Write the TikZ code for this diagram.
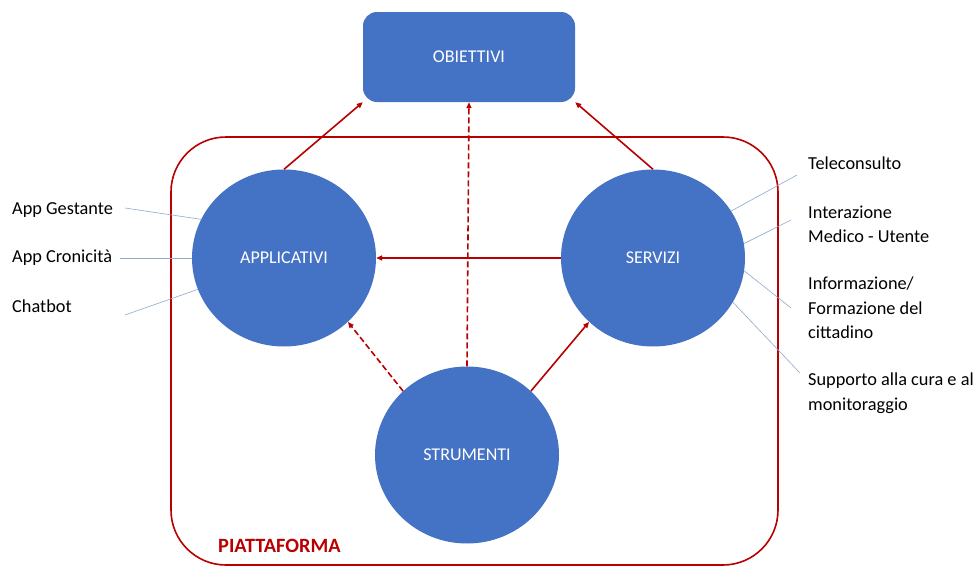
\documentclass[tikz,border=0pt]{standalone}
\usepackage{fontspec}
\setmainfont{Carlito}
\usetikzlibrary{shapes.geometric,arrows.meta}
\definecolor{bblue}{HTML}{4472C4}
\definecolor{dred}{HTML}{B80000}
\definecolor{lline}{HTML}{8FAACB}
\tikzset{
  blob/.style={ellipse,fill=bblue,minimum width=184pt,minimum height=177pt,inner sep=0pt,text=white,font=\fontsize{18}{20}\selectfont},
  goal/.style={rectangle,rounded corners=14pt,fill=bblue,minimum width=212pt,minimum height=90pt,text=white,font=\fontsize{18}{20}\selectfont},
  redarr/.style={draw=dred,line width=1.6pt,-{Triangle[length=6pt,width=5pt]}},
  reddash/.style={redarr,dashed,dash pattern=on 6pt off 3pt},
  thin/.style={draw=lline,line width=0.6pt},
  lbl/.style={font=\fontsize{18.3}{24.5}\selectfont,align=left,inner sep=0pt}
}
\begin{document}
\begin{tikzpicture}[x=1pt,y=-1pt]
\useasboundingbox (0,0) rectangle (978,570);
\fill[white] (0,0) rectangle (978,570);
% platform
\draw[dred,line width=1.6pt,rounded corners=55pt] (171,137) rectangle (778,565);
\node[font=\fontsize{20.3}{22}\selectfont\bfseries,text=dred,anchor=west,inner sep=0pt] (piat) at (218,546) {PIATTAFORMA};
% nodes
\node[goal] (obj) at (469,57) {OBIETTIVI};
\node[blob] (app) at (284,258) {APPLICATIVI};
\node[blob] (ser) at (653,258) {SERVIZI};
\node[blob] (str) at (467,455) {STRUMENTI};
% arrows
\draw[redarr] (app.north) -- (obj.south west);
\draw[redarr] (ser.north) -- (obj.south east);
\draw[reddash] (str.north) -- (obj.south);
\draw[redarr] (ser.west) -- (app.east);
\draw[reddash] (str.135) -- (app.-45);
\draw[redarr] (str.45) -- (ser.-135);
% left labels
\node[lbl,anchor=west] (l1) at (12,210) {App Gestante};
\node[lbl,anchor=west] (l2) at (12,258) {App Cronicità};
\node[lbl,anchor=west] (l3) at (12,306) {Chatbot};
\coordinate (c1) at (125,208);
\coordinate (c2) at (120,258);
\coordinate (c3) at (125,315);
\draw[thin] (c1) -- (app.155);
\draw[thin] (c2) -- (app.west);
\draw[thin] (c3) -- (app.200);
% right labels
\node[lbl,anchor=west] (r1) at (808,163) {Teleconsulto};
\node[lbl,anchor=west] (r2) at (808,224.5) {Interazione\\Medico - Utente};
\node[lbl,anchor=west] (r3) at (808,308) {Informazione/\\Formazione del\\cittadino};
\node[lbl,anchor=west] (r4) at (808,393) {Supporto alla cura e al\\monitoraggio};
\coordinate (d1) at (797,175);
\coordinate (d2) at (791,220);
\coordinate (d3) at (791,308);
\coordinate (d4) at (800,373);
\draw[thin] (d1) -- (ser.31);
\draw[thin] (d2) -- (ser.9);
\draw[thin] (d3) -- (ser.-8);
\draw[thin] (d4) -- (ser.-29);
\end{tikzpicture}
\end{document}
